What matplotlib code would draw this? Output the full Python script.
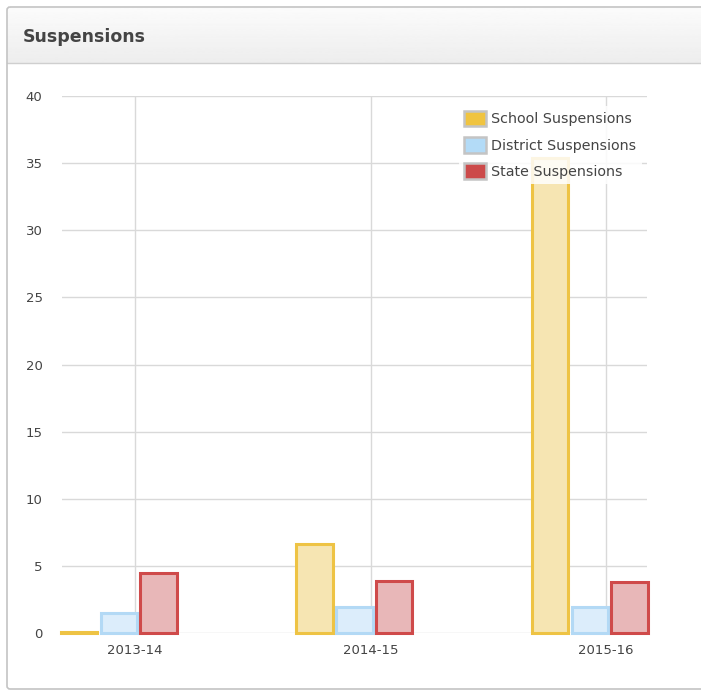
import numpy as np
import matplotlib.pyplot as plt
from matplotlib.patches import Rectangle, FancyBboxPatch

# data
years = ["2013-14", "2014-15", "2015-16"]
school = [0.1, 6.6, 35.4]
district = [1.5, 1.9, 1.9]
state = [4.5, 3.9, 3.8]
series_names = ["School Suspensions", "District Suspensions", "State Suspensions"]

edge_cols = ["#EEC344", "#B3D9F5", "#CF4A4A"]
fill_cols = ["#F6E5B2", "#DCEDFB", "#E8B7B8"]
swatch_cols = ["#F0C440", "#B3DBF7", "#CC4A4A"]

W, H = 701, 691
fig = plt.figure(figsize=(W / 100, H / 100), dpi=100)

# panel background, header and border
bg = fig.add_axes([0, 0, 1, 1], zorder=-5)
bg.set_xlim(0, W)
bg.set_ylim(H, 0)
bg.axis("off")
grad = np.linspace(0.985, 0.93, 64).reshape(-1, 1)
bg.imshow(grad, cmap="gray", vmin=0, vmax=1, extent=[7, W + 2, 63, 7], aspect="auto", zorder=1)
bg.plot([7, W], [63, 63], color="#cfcfcf", lw=1, zorder=2)
bg.add_patch(FancyBboxPatch((7, 7), W, 682, boxstyle="round,pad=0,rounding_size=3",
                            fill=False, edgecolor="#c4c4c4", lw=1.2, zorder=3))
bg.text(23, 37, "Suspensions", fontsize=12.5, fontweight="bold", color="#444444",
        va="center", ha="left", family="DejaVu Sans")

# plot area
ax = fig.add_axes([62 / W, 58 / H, 585 / W, 537 / H])
x = np.arange(len(years))
offsets = [-0.238, -0.069, 0.100]
width = 0.155
for vals, off, fc, ec in zip([school, district, state], offsets, fill_cols, edge_cols):
    ax.bar(x + off, vals, width=width, color=fc, edgecolor=ec, linewidth=2.2, zorder=3,
           clip_on=False)

ax.set_xlim(-0.31, 2.174)
ax.set_ylim(0, 40)
ax.set_yticks(range(0, 41, 5))
ax.set_xticks(x)
ax.set_xticklabels(years)
ax.grid(True, color="#d9d9d9", linewidth=1, zorder=0)
ax.set_axisbelow(True)
for s in ax.spines.values():
    s.set_visible(False)
ax.tick_params(length=0, labelsize=9.5, colors="#444444", pad=8)
ax.tick_params(axis="y", pad=14)
ax.set_facecolor("none")

handles = [Rectangle((0, 0), 1, 1, facecolor=c, edgecolor="#c4c4c4", linewidth=1.8)
           for c in swatch_cols]
leg = ax.legend(handles, series_names, loc="upper right", bbox_to_anchor=(1.003, 0.995),
                fontsize=10.3, frameon=True, framealpha=0.85, edgecolor="none",
                fancybox=False, handlelength=1.6, handleheight=1.3, handletextpad=0.35,
                labelspacing=0.75, borderpad=0.35, labelcolor="#444444")
leg.set_zorder(5)

fig.savefig("out.png", dpi=100)
